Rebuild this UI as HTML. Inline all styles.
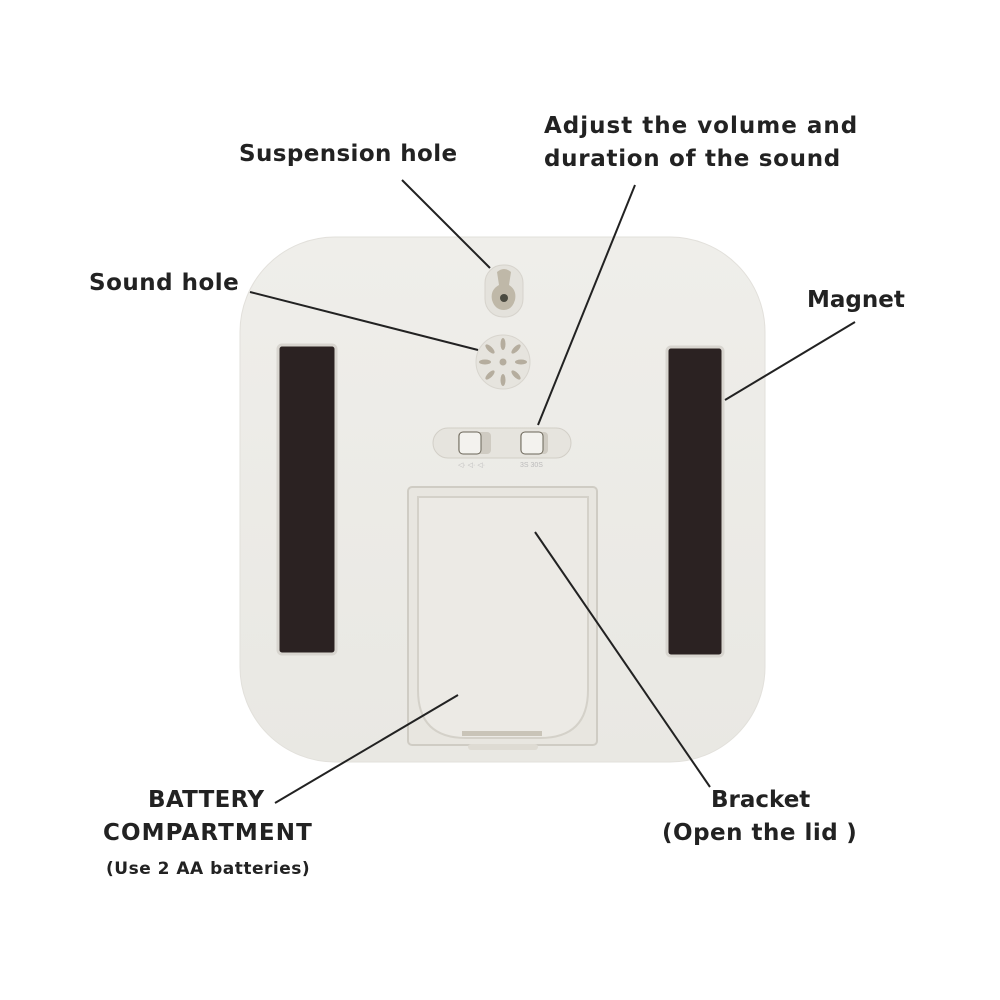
<!DOCTYPE html>
<html><head><meta charset="utf-8"><style>
body{margin:0;background:#fff;}
.t{position:absolute;font-family:"DejaVu Sans","Liberation Sans",sans-serif;font-weight:bold;color:#222;font-size:23px;white-space:nowrap;}
</style></head><body>
<div style="position:relative;width:1000px;height:1000px;overflow:hidden;">
<svg width="1000" height="1000" style="position:absolute;left:0;top:0">
<defs>
<linearGradient id="g" x1="0" y1="0" x2="0" y2="1"><stop offset="0" stop-color="#efeeea"/><stop offset="1" stop-color="#e9e8e3"/></linearGradient>
</defs>
<rect x="240" y="237" width="525" height="525" rx="95" fill="url(#g)" stroke="#e2e0db"/>
<rect x="278" y="345" width="58" height="309" rx="4" fill="#2b2222" stroke="#d8d5cf" stroke-width="3"/>
<rect x="667" y="347" width="56" height="309" rx="4" fill="#2b2222" stroke="#d8d5cf" stroke-width="3"/>
<rect x="485" y="265" width="38" height="52" rx="18" fill="#e4e2dc" stroke="#d6d3cc"/>
<path d="M497 272 Q504 266 511 272 L509 285 Q517 290 515 300 Q512 310 504 310 Q495 310 492 300 Q490 290 499 285 Z" fill="#bfb8a8"/>
<circle cx="504" cy="298" r="4" fill="#4a4a40"/>
<circle cx="503" cy="362" r="27" fill="#e6e4de" stroke="#d8d5ce"/>
<circle cx="503" cy="362" r="3.5" fill="#b5ad9e"/>
<g fill="#b5ad9e">
<ellipse cx="503" cy="344" rx="2.5" ry="6"/><ellipse cx="503" cy="380" rx="2.5" ry="6"/>
<ellipse cx="485" cy="362" rx="6" ry="2.5"/><ellipse cx="521" cy="362" rx="6" ry="2.5"/>
<ellipse cx="490" cy="349" rx="2.5" ry="6" transform="rotate(-45 490 349)"/>
<ellipse cx="516" cy="349" rx="2.5" ry="6" transform="rotate(45 516 349)"/>
<ellipse cx="490" cy="375" rx="2.5" ry="6" transform="rotate(45 490 375)"/>
<ellipse cx="516" cy="375" rx="2.5" ry="6" transform="rotate(-45 516 375)"/>
</g>
<rect x="433" y="428" width="138" height="30" rx="15" fill="#e6e4de" stroke="#d2cfc7"/>
<rect x="458" y="432" width="33" height="22" rx="4" fill="#cfcbc2"/>
<rect x="459" y="432" width="22" height="22" rx="4" fill="#f3f2ee" stroke="#6a6558"/>
<rect x="520" y="432" width="28" height="22" rx="4" fill="#cfcbc2"/>
<rect x="521" y="432" width="22" height="22" rx="4" fill="#f3f2ee" stroke="#6a6558"/>
<text x="458" y="467" font-size="7" fill="#bbb" font-family="Liberation Sans">◁· ◁· ◁·</text>
<text x="520" y="467" font-size="7" fill="#bbb" font-family="Liberation Sans">3S 30S</text>
<rect x="408" y="487" width="189" height="258" rx="4" fill="#e8e6e0" stroke="#cfccc4" stroke-width="2"/>
<path d="M418 497 H588 V690 Q588 738 540 738 H466 Q418 738 418 690 Z" fill="#eceae5" stroke="#d4d1c9" stroke-width="2"/>
<rect x="462" y="731" width="80" height="5" fill="#c9c4b8"/>
<rect x="468" y="744" width="70" height="6" rx="3" fill="#dedbd3"/>
<g stroke="#222" stroke-width="2">
<line x1="402" y1="180" x2="490" y2="268"/>
<line x1="250" y1="292" x2="478" y2="350"/>
<line x1="635" y1="185" x2="538" y2="425"/>
<line x1="855" y1="322" x2="725" y2="400"/>
<line x1="275" y1="803" x2="458" y2="695"/>
<line x1="710" y1="787" x2="535" y2="532"/>
</g>
</svg>
<div class="t" style="left:239px;top:141px;letter-spacing:0.4px;">Suspension hole</div>
<div class="t" style="left:544px;top:113px;letter-spacing:1px;">Adjust the volume and</div>
<div class="t" style="left:544px;top:146px;letter-spacing:0.7px;">duration of the sound</div>
<div class="t" style="left:89px;top:270px;letter-spacing:0.5px;">Sound hole</div>
<div class="t" style="left:807px;top:287px;">Magnet</div>
<div class="t" style="left:148px;top:787px;letter-spacing:0.3px;">BATTERY</div>
<div class="t" style="left:103px;top:820px;letter-spacing:1.1px;">COMPARTMENT</div>
<div class="t" style="left:106px;top:859px;font-size:17px;letter-spacing:0.5px;">(Use 2 AA batteries)</div>
<div class="t" style="left:711px;top:787px;">Bracket</div>
<div class="t" style="left:662px;top:820px;letter-spacing:0.5px;">(Open the lid<span style="margin-left:8px">)</span></div>
</div>
</body></html>
